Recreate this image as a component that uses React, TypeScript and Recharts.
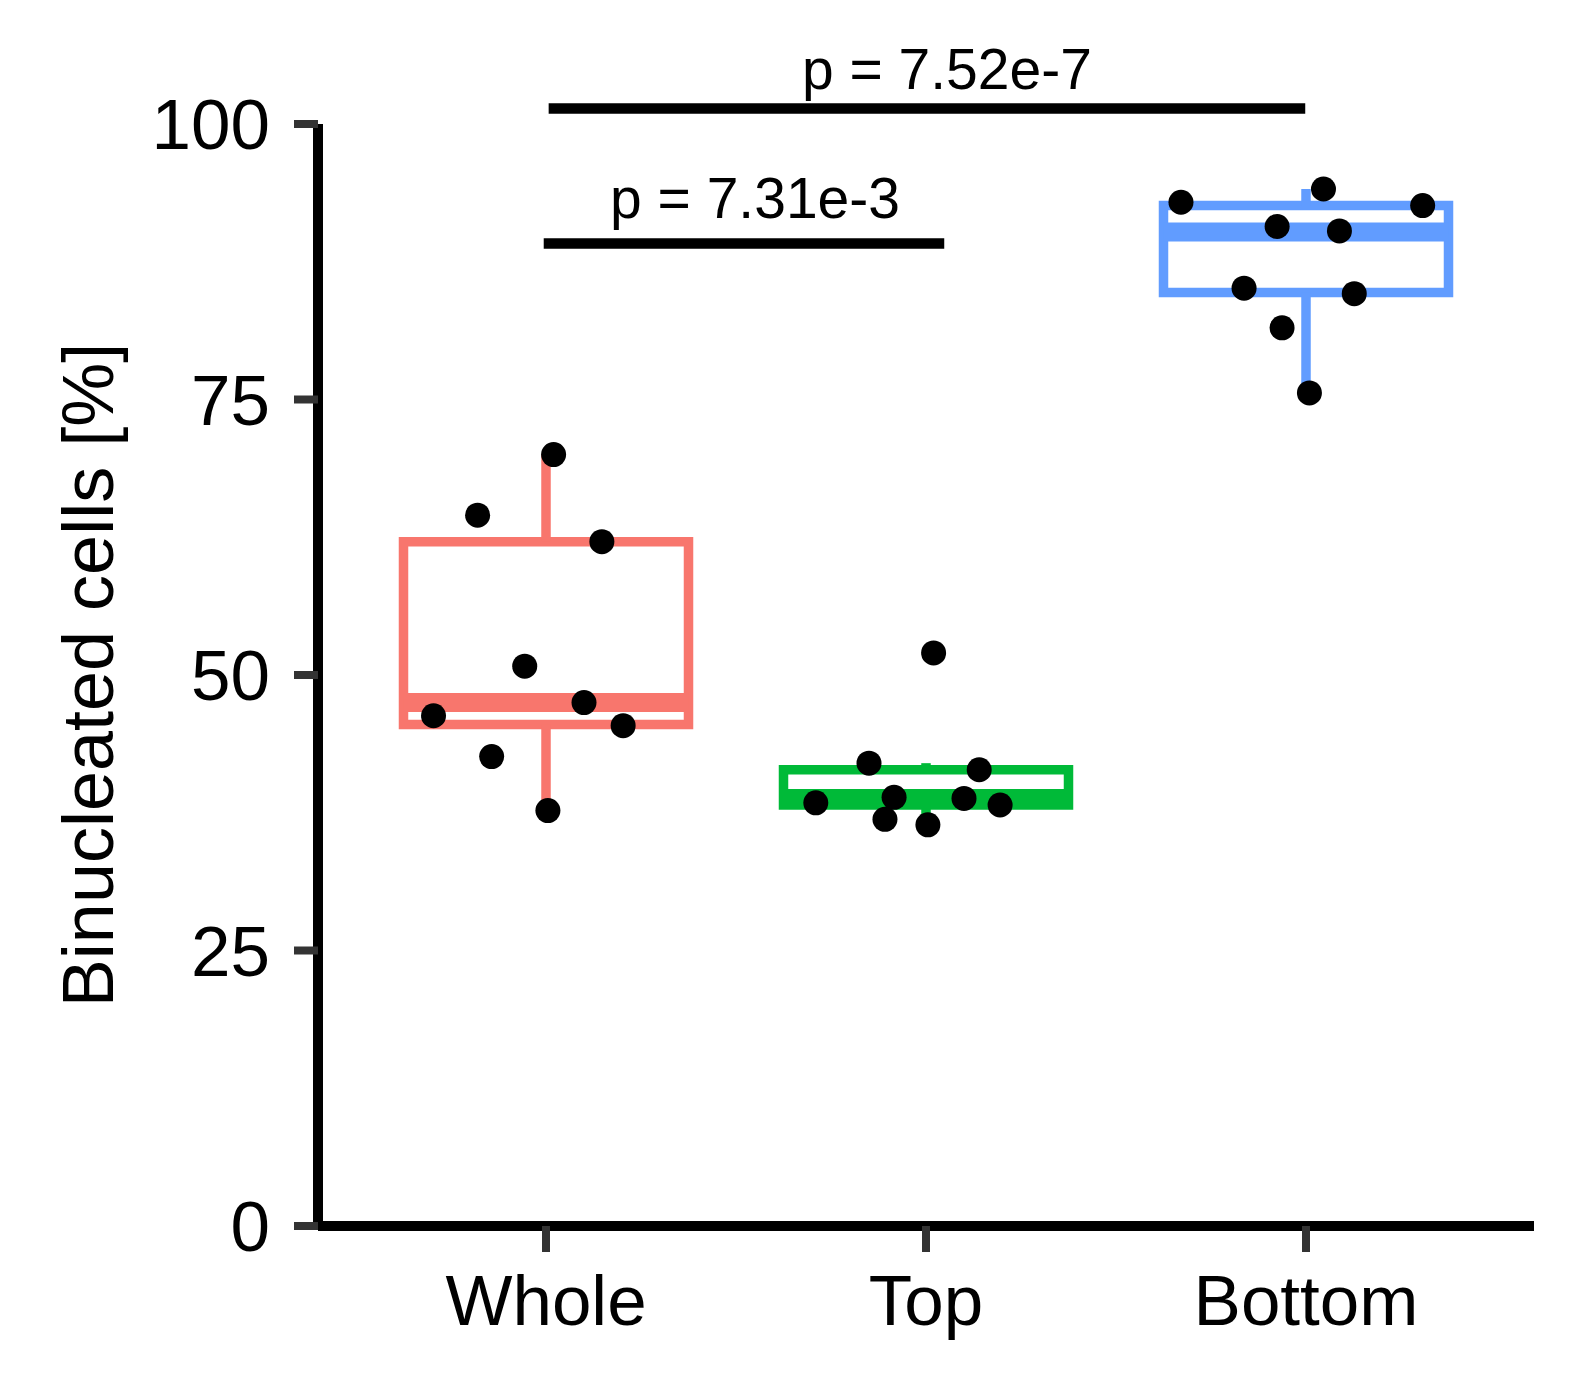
import React from 'react';
import {
  ComposedChart,
  XAxis,
  YAxis,
  Scatter,
  ReferenceArea,
  ReferenceLine,
  ReferenceDot,
  Label,
} from 'recharts';

const FONT = '"Liberation Sans", Arial, Helvetica, sans-serif';

// categories and colours
const categories = ['Whole', 'Top', 'Bottom'];
const colors = ['#F8766D', '#00BA38', '#619CFF'];
const yTicks = [0, 25, 50, 75, 100];
const xTicks = [1, 2, 3];

// box statistics
const q1 = [45.5, 38.2, 84.7];
const median = [47.5, 38.8, 90.2];
const q3 = [62.1, 41.4, 92.6];
const whiskerLow = [37.7, 36.4, 75.6];
const whiskerHigh = [70.0, 42.0, 94.1];

// individual points (x = jittered category position, y = value)
const wholeX = [1.02, 0.82, 1.147, 0.944, 1.1, 0.704, 1.203, 0.857, 1.005];
const wholeY = [70.0, 64.5, 62.1, 50.8, 47.5, 46.3, 45.4, 42.6, 37.7];
const topX = [2.02, 1.85, 2.14, 1.71, 1.916, 2.1, 2.195, 1.892, 2.005];
const topY = [52.0, 42.0, 41.4, 38.4, 38.9, 38.8, 38.2, 36.9, 36.4];
const bottomX = [2.671, 3.046, 3.307, 2.924, 3.088, 2.837, 3.127, 2.937, 3.009];
const bottomY = [92.9, 94.1, 92.6, 90.7, 90.3, 85.1, 84.6, 81.5, 75.6];

// significance brackets
const bracketLabels = ['p = 7.31e-3', 'p = 7.52e-7'];
const bracketStart = [0.994, 1.007];
const bracketEnd = [2.048, 2.998];
const bracketLevel = [89.15, 101.4];
const bracketTextX = [1.55, 2.055];
const bracketTextY = [91.4, 103.15];

const pointSets = [
  { xs: wholeX, ys: wholeY },
  { xs: topX, ys: topY },
  { xs: bottomX, ys: bottomY },
];

const HALF = 0.375;

const YLabel = (props: any) => {
  const vb = props.viewBox || { x: 0, y: 116, width: 310, height: 1102 };
  const cx = vb.x + 105;
  const cy = vb.y + vb.height / 2;
  return (
    <text
      x={cx}
      y={cy}
      transform={`rotate(-90, ${cx}, ${cy})`}
      textAnchor="middle"
      fontSize={72}
      fill="#000"
      fontFamily={FONT}
    >
      Binucleated cells [%]
    </text>
  );
};

const Dot = (p: any) => <circle cx={p.cx} cy={p.cy} r={12.5} fill="#000" />;

export default function App() {
  const boxes = categories.flatMap((c, i) => {
    const x = i + 1;
    return [
      <ReferenceLine
        key={`wl-${c}`}
        segment={[{ x, y: whiskerLow[i] }, { x, y: q1[i] }]}
        stroke={colors[i]}
        strokeWidth={9.5}
        ifOverflow="visible"
      />,
      <ReferenceLine
        key={`wh-${c}`}
        segment={[{ x, y: q3[i] }, { x, y: whiskerHigh[i] }]}
        stroke={colors[i]}
        strokeWidth={9.5}
        ifOverflow="visible"
      />,
      <ReferenceArea
        key={`box-${c}`}
        x1={x - HALF}
        x2={x + HALF}
        y1={q1[i]}
        y2={q3[i]}
        fill="#fff"
        fillOpacity={1}
        stroke={colors[i]}
        strokeWidth={9.5}
        ifOverflow="visible"
      />,
      <ReferenceLine
        key={`med-${c}`}
        segment={[{ x: x - HALF, y: median[i] }, { x: x + HALF, y: median[i] }]}
        stroke={colors[i]}
        strokeWidth={19}
        ifOverflow="visible"
      />,
    ];
  });

  const brackets = bracketLabels.flatMap((lab, i) => [
    <ReferenceLine
      key={`br-${i}`}
      segment={[
        { x: bracketStart[i], y: bracketLevel[i] },
        { x: bracketEnd[i], y: bracketLevel[i] },
      ]}
      stroke="#000"
      strokeWidth={10.5}
      ifOverflow="visible"
    />,
    <ReferenceDot
      key={`bt-${i}`}
      x={bracketTextX[i]}
      y={bracketTextY[i]}
      r={0.5}
      fill="none"
      stroke="none"
      ifOverflow="visible"
      label={{ value: lab, position: 'top', offset: 0, fontSize: 57, fill: '#000', fontFamily: FONT }}
    />,
  ]);

  return (
    <div style={{ width: 1554, height: 1357, fontFamily: FONT }}>
      <ComposedChart
        width={1554}
        height={1357}
        margin={{ top: 116, right: 28, bottom: 0, left: 0 }}
      >
        <XAxis
          type="number"
          dataKey="x"
          domain={[0.4, 3.6]}
          allowDataOverflow
          ticks={xTicks}
          interval={0}
          tickFormatter={(v: number) => categories[Math.round(v) - 1]}
          height={139}
          tickSize={26}
          tickMargin={23}
          axisLine={{ stroke: '#000', strokeWidth: 10 }}
          tickLine={{ stroke: '#333', strokeWidth: 8 }}
          tick={{ fill: '#000', fontSize: 71, fontFamily: FONT }}
        />
        <YAxis
          type="number"
          dataKey="y"
          domain={[0, 100]}
          allowDataOverflow
          ticks={yTicks}
          interval={0}
          width={310}
          tickSize={24}
          tickMargin={24}
          axisLine={{ stroke: '#000', strokeWidth: 10 }}
          tickLine={{ stroke: '#333', strokeWidth: 8 }}
          tick={{ fill: '#000', fontSize: 71, fontFamily: FONT }}
        >
          <Label content={YLabel} />
        </YAxis>
        {boxes}
        {brackets}
        {pointSets.map((s, i) => (
          <Scatter
            key={`pts-${i}`}
            data={s.xs.map((x, j) => ({ x, y: s.ys[j] }))}
            shape={Dot}
            isAnimationActive={false}
          />
        ))}
      </ComposedChart>
    </div>
  );
}
